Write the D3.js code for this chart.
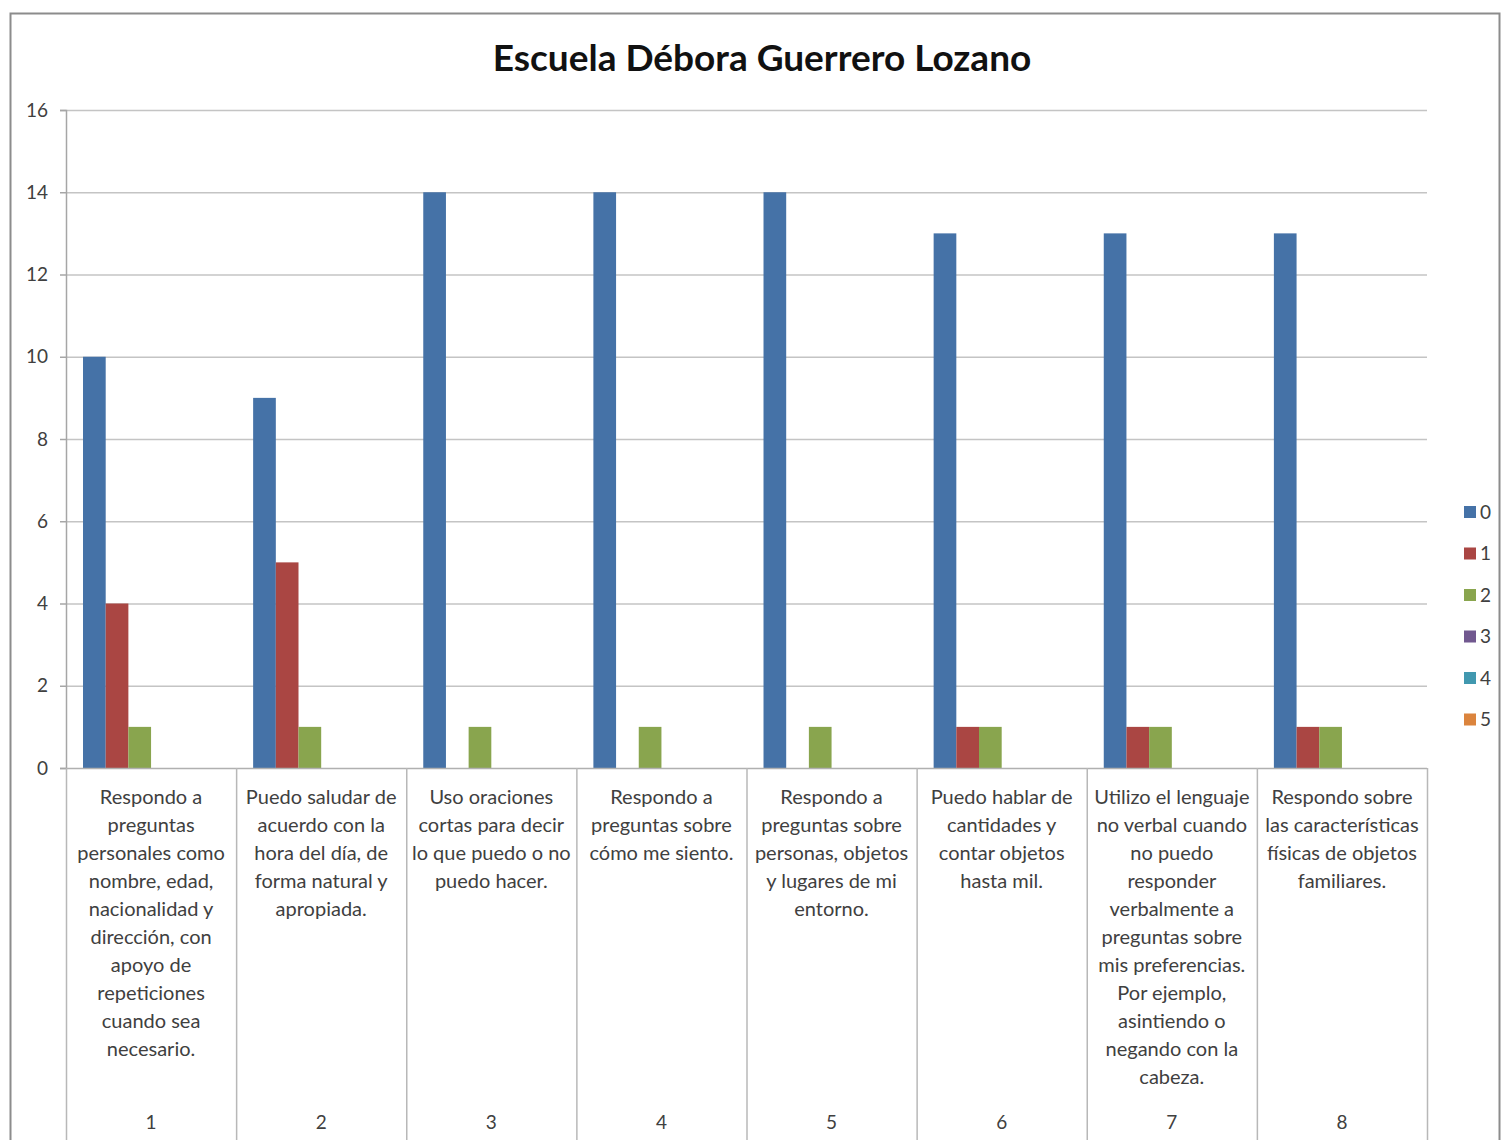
<!DOCTYPE html>
<html>
<head>
<meta charset="utf-8">
<script src="https://cdn.jsdelivr.net/npm/d3@7"></script>
<style>
  html, body { margin: 0; padding: 0; background: #fff; }
  svg { display: block; }
</style>
</head>
<body>
<svg id="chart" width="1504" height="1140"></svg>
<script>
const title = "Escuela Débora Guerrero Lozano";
const categories = ["1", "2", "3", "4", "5", "6", "7", "8"];
const categoryTexts = [
  ["Respondo a", "preguntas", "personales como", "nombre, edad,", "nacionalidad y", "dirección, con", "apoyo de", "repeticiones", "cuando sea", "necesario."],
  ["Puedo saludar de", "acuerdo con la", "hora del día, de", "forma natural y", "apropiada."],
  ["Uso oraciones", "cortas para decir", "lo que puedo o no", "puedo hacer."],
  ["Respondo a", "preguntas sobre", "cómo me siento."],
  ["Respondo a", "preguntas sobre", "personas, objetos", "y lugares de mi", "entorno."],
  ["Puedo hablar de", "cantidades y", "contar objetos", "hasta mil."],
  ["Utilizo el lenguaje", "no verbal cuando", "no puedo", "responder", "verbalmente a", "preguntas sobre", "mis preferencias.", "Por ejemplo,", "asintiendo o", "negando con la", "cabeza."],
  ["Respondo sobre", "las características", "físicas de objetos", "familiares."]
];
const seriesNames = ["0", "1", "2", "3", "4", "5"];
const s0 = [10, 9, 14, 14, 14, 13, 13, 13];
const s1 = [4, 5, 0, 0, 0, 1, 1, 1];
const s2 = [1, 1, 1, 1, 1, 1, 1, 1];
const s3 = [0, 0, 0, 0, 0, 0, 0, 0];
const s4 = [0, 0, 0, 0, 0, 0, 0, 0];
const s5 = [0, 0, 0, 0, 0, 0, 0, 0];
const seriesValues = [s0, s1, s2, s3, s4, s5];
const yTicks = [0, 2, 4, 6, 8, 10, 12, 14, 16];
const colors = ["#4572A7", "#AA4643", "#89A54E", "#71588F", "#4198AF", "#DB843D"];

const svg = d3.select("#chart");
const W = 1504, H = 1140;
const plot = { left: 66, right: 1427, top: 110, bottom: 768 };
const font = "Lato, 'Open Sans', 'DejaVu Sans', sans-serif";
const textColor = "#404040";

// outer chart border
svg.append("rect").attr("x", 10.5).attr("y", 13.5).attr("width", 1489).attr("height", 1140)
  .attr("fill", "#fff").attr("stroke", "#8c8c8c").attr("stroke-width", 2);

// title
svg.append("text").attr("x", 762).attr("y", 71).attr("text-anchor", "middle")
  .attr("font-family", font).attr("font-weight", "bold").attr("font-size", 37)
  .attr("fill", "#111").text(title);

const x = d3.scaleBand().domain(categories).range([plot.left, plot.right]).paddingInner(0).paddingOuter(0);
const xs = d3.scaleBand().domain(seriesNames).range([0, x.bandwidth()]).paddingInner(0).paddingOuter(0.75);
const y = d3.scaleLinear().domain([0, 16]).range([plot.bottom, plot.top]);

// gridlines
svg.append("g").selectAll("line").data(yTicks.filter(d => d > 0)).join("line")
  .attr("x1", plot.left).attr("x2", plot.right)
  .attr("y1", d => y(d) + 0.5).attr("y2", d => y(d) + 0.5)
  .attr("stroke", "#c4c4c4").attr("stroke-width", 1.5);

// y axis
const yAxis = svg.append("g").attr("transform", `translate(${plot.left},0)`)
  .call(d3.axisLeft(y).tickValues(yTicks).tickSize(6).tickPadding(12).tickFormat(d3.format("d")));
yAxis.select(".domain").attr("stroke", "#a6a6a6").attr("stroke-width", 1.5);
yAxis.selectAll(".tick line").attr("stroke", "#a6a6a6").attr("stroke-width", 1.5);
yAxis.selectAll(".tick text").attr("font-family", font).attr("font-size", 19).attr("fill", textColor);

// bars
const groups = svg.append("g").selectAll("g").data(seriesValues).join("g")
  .attr("fill", (d, i) => colors[i]);
groups.selectAll("rect").data((vals, i) => vals.map((v, j) => ({ v, cat: categories[j], s: seriesNames[i] })))
  .join("rect")
  .attr("x", d => x(d.cat) + xs(d.s))
  .attr("width", xs.bandwidth())
  .attr("y", d => y(d.v))
  .attr("height", d => y(0) - y(d.v));

// category axis line
svg.append("line").attr("x1", plot.left).attr("x2", plot.right)
  .attr("y1", plot.bottom + 0.5).attr("y2", plot.bottom + 0.5)
  .attr("stroke", "#b0b0b0").attr("stroke-width", 1.5);

// category dividers (multi-level axis)
const bounds = categories.map(c => x(c)).concat([plot.right]);
svg.append("g").selectAll("line").data(bounds).join("line")
  .attr("x1", d => d + 0.5).attr("x2", d => d + 0.5)
  .attr("y1", plot.bottom).attr("y2", H)
  .attr("stroke", "#b8b8b8").attr("stroke-width", 1.5);

// category texts
const catG = svg.append("g").selectAll("text").data(categories).join("text")
  .attr("text-anchor", "middle").attr("font-family", font).attr("font-size", 20)
  .attr("fill", textColor);
catG.each(function(c, i) {
  const t = d3.select(this);
  categoryTexts[i].forEach((line, k) => {
    t.append("tspan").attr("x", x(c) + x.bandwidth() / 2).attr("y", 804 + k * 28).text(line);
  });
});

// category numbers
svg.append("g").selectAll("text").data(categories).join("text")
  .attr("x", c => x(c) + x.bandwidth() / 2).attr("y", 1129)
  .attr("text-anchor", "middle").attr("font-family", font).attr("font-size", 19)
  .attr("fill", textColor).text(d => d);

// legend
const leg = svg.append("g").selectAll("g").data(seriesNames).join("g")
  .attr("transform", (d, i) => `translate(1464, ${512 + i * 41.5})`);
leg.append("rect").attr("x", 0).attr("y", -6).attr("width", 12).attr("height", 12)
  .attr("fill", (d, i) => colors[i]);
leg.append("text").attr("x", 16).attr("y", 6.5).attr("font-family", font).attr("font-size", 19)
  .attr("fill", textColor).text(d => d);
</script>
</body>
</html>
